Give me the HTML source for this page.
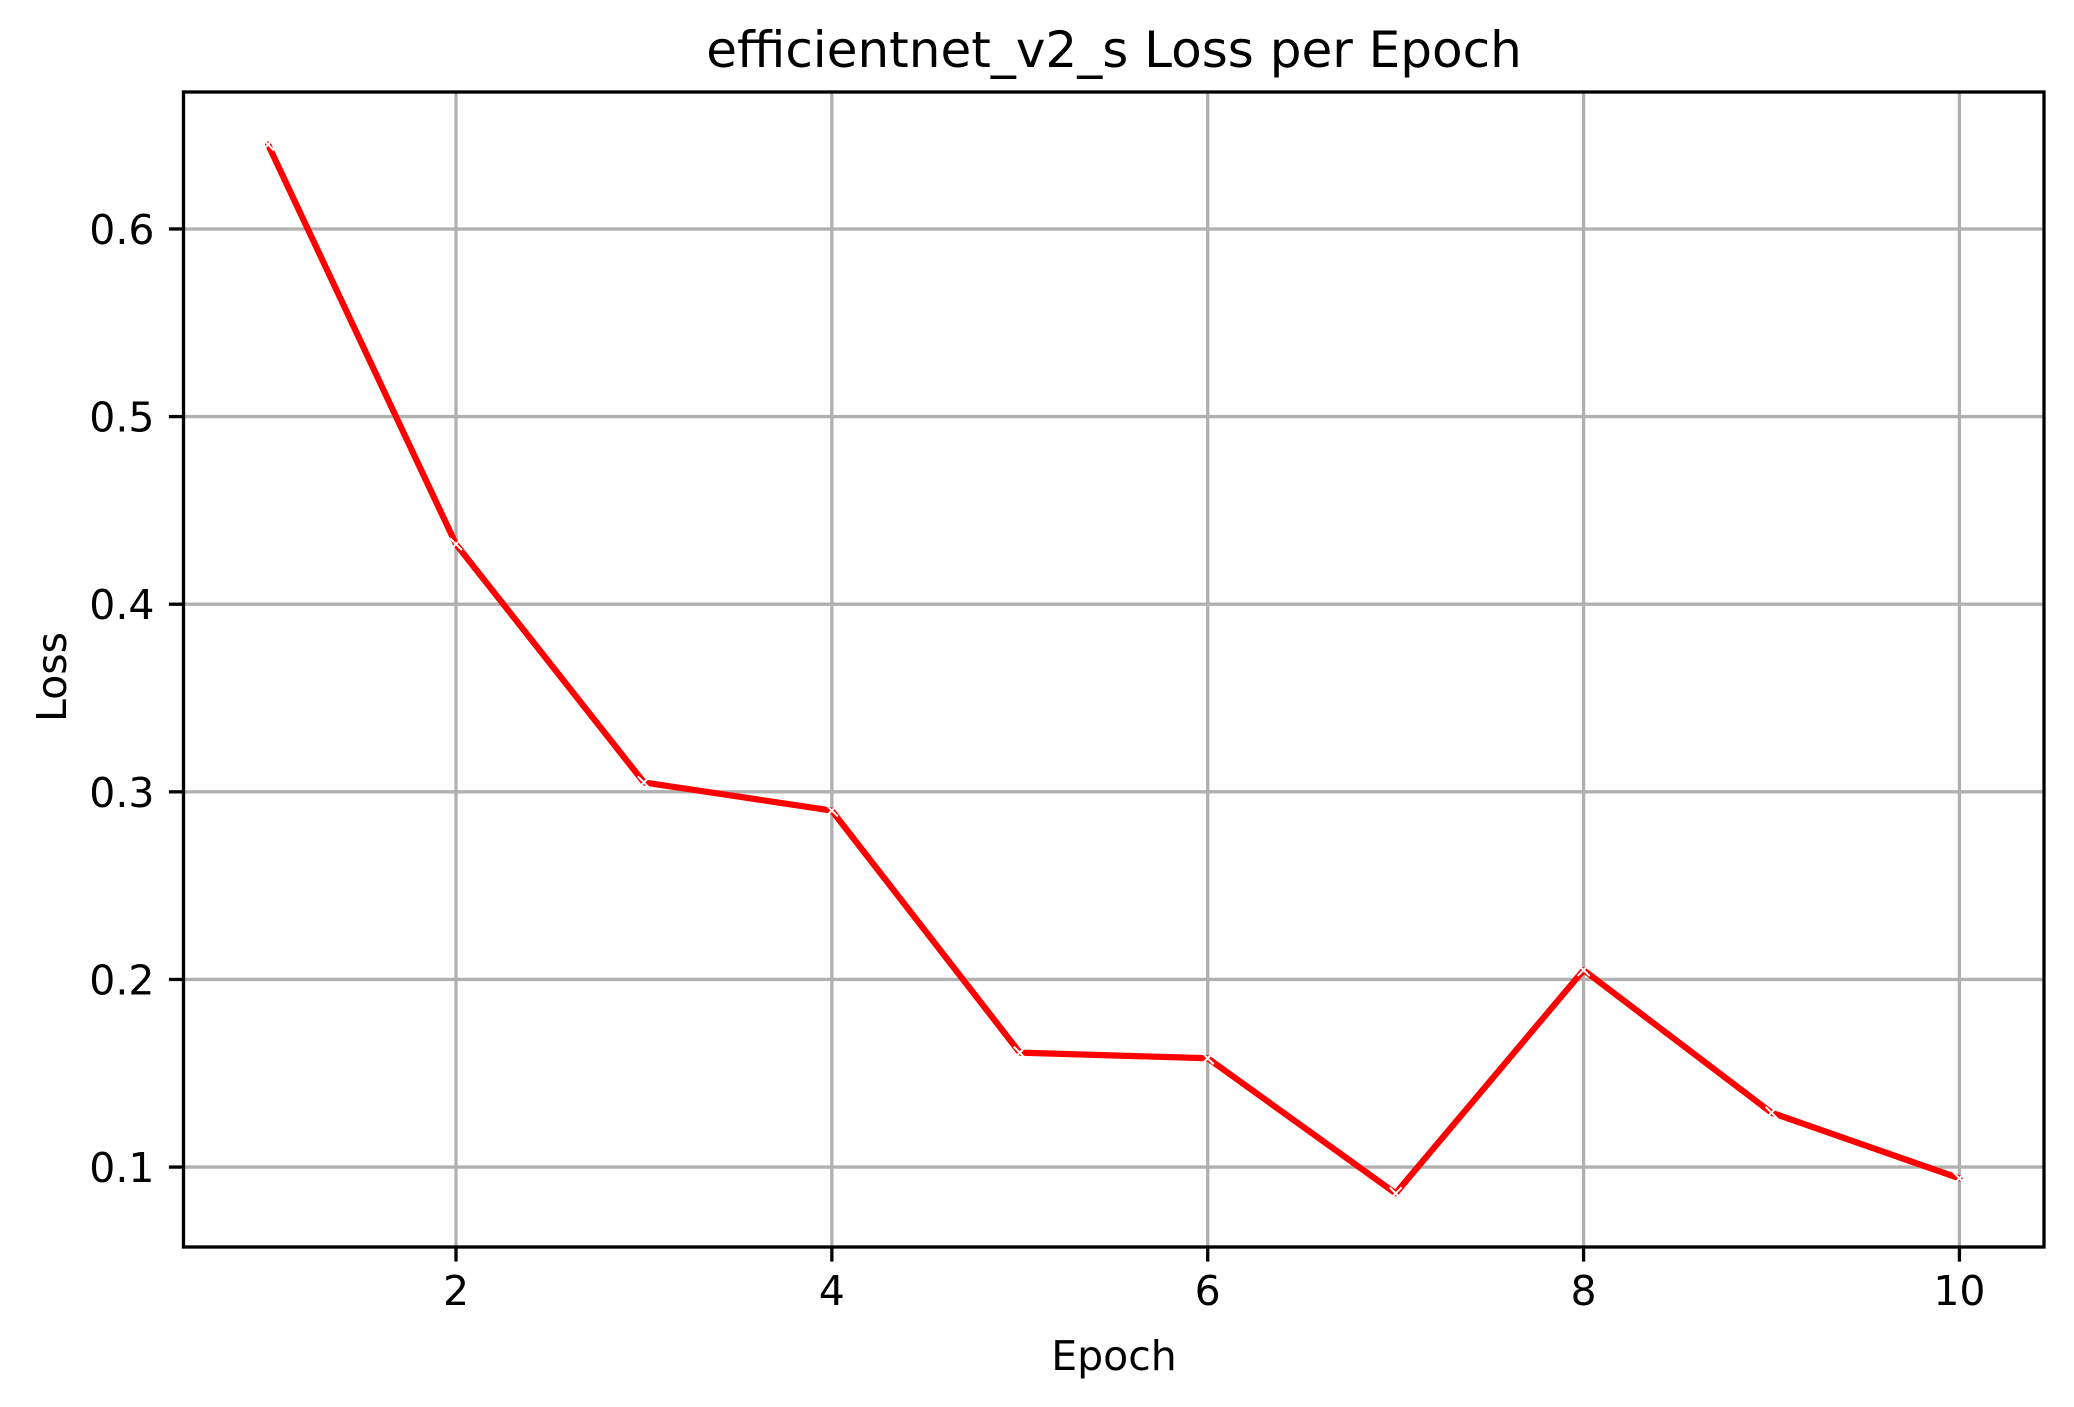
<!DOCTYPE html>
<html><head><meta charset="utf-8"><style>
html,body{margin:0;padding:0;background:#fff;}
svg{display:block;}
text{font-family:"DejaVu Sans","Liberation Sans",sans-serif;fill:#000;}
</style></head><body>
<svg id="chart" width="2074" height="1407" viewBox="0 0 2074 1407" xmlns="http://www.w3.org/2000/svg">
<rect x="0" y="0" width="2074" height="1407" fill="#fff"/>
<g id="grid"></g>
<g id="series"></g>
<rect x="183.5" y="92" width="1860.5" height="1155" fill="none" stroke="#000" stroke-width="3.3"/>
<g id="ticks"></g>
<text x="1114" y="67" font-size="50" text-anchor="middle">efficientnet_v2_s Loss per Epoch</text>
<text x="1114" y="1370" font-size="41" text-anchor="middle">Epoch</text>
<text x="0" y="0" font-size="41" text-anchor="middle" transform="translate(66,677) rotate(-90)">Loss</text>
</svg>
<script>
const epochs = [1,2,3,4,5,6,7,8,9,10];
const lossValues = [0.645,0.432,0.305,0.290,0.161,0.158,0.086,0.205,0.129,0.094];
const xTicks = [2,4,6,8,10];
const yTicks = [0.1,0.2,0.3,0.4,0.5,0.6];
const yTickLabels = ["0.1","0.2","0.3","0.4","0.5","0.6"];

const L=183.5,R=2044,T=92,B=1247;
const xMin=0.55,xMax=10.45,yMin=0.0574,yMax=0.673;
function sx(v){return L+(v-xMin)/(xMax-xMin)*(R-L);}
function sy(v){return B-(v-yMin)/(yMax-yMin)*(B-T);}
const NS="http://www.w3.org/2000/svg";
function mk(tag,attrs,parent){const e=document.createElementNS(NS,tag);for(const k in attrs)e.setAttribute(k,attrs[k]);parent.appendChild(e);return e;}
const grid=document.getElementById('grid'),ticks=document.getElementById('ticks'),series=document.getElementById('series');
xTicks.forEach(v=>{
  const x=sx(v);
  const g=mk('line',{x1:x,x2:x,y1:T,y2:B,stroke:'#b0b0b0','stroke-width':3.3},grid);
  
  
  const t=mk('line',{x1:x,x2:x,y1:B,y2:B+14.6,stroke:'#000','stroke-width':3.3},ticks);
  
  
  const l=mk('text',{x:x,y:B+58,'font-size':41,'text-anchor':'middle'},ticks);
  l.textContent=String(v);
  
  
});
yTicks.forEach((v,i)=>{
  const y=sy(v);
  const g=mk('line',{x1:L,x2:R,y1:y,y2:y,stroke:'#b0b0b0','stroke-width':3.3},grid);
  
  
  const t=mk('line',{x1:L-14.6,x2:L,y1:y,y2:y,stroke:'#000','stroke-width':3.3},ticks);
  
  
  const l=mk('text',{x:L-29,y:y+15,'font-size':41,'text-anchor':'end'},ticks);
  l.textContent=yTickLabels[i];
  
  
});
const pts=epochs.map((e,i)=>sx(e)+','+sy(lossValues[i])).join(' ');
const line=mk('polyline',{points:pts,fill:'none',stroke:'#ff0000','stroke-width':6.2,'stroke-linejoin':'round','stroke-linecap':'round'},series);


epochs.forEach((e,i)=>{
  const x=sx(e),y=sy(lossValues[i]),s=6;
  const m=mk('path',{d:`M${x-s},${y-s}L${x+s},${y+s}M${x-s},${y+s}L${x+s},${y-s}`,stroke:'#fff','stroke-width':2,fill:'none'},series);
  
  
});
</script>
</body></html>
